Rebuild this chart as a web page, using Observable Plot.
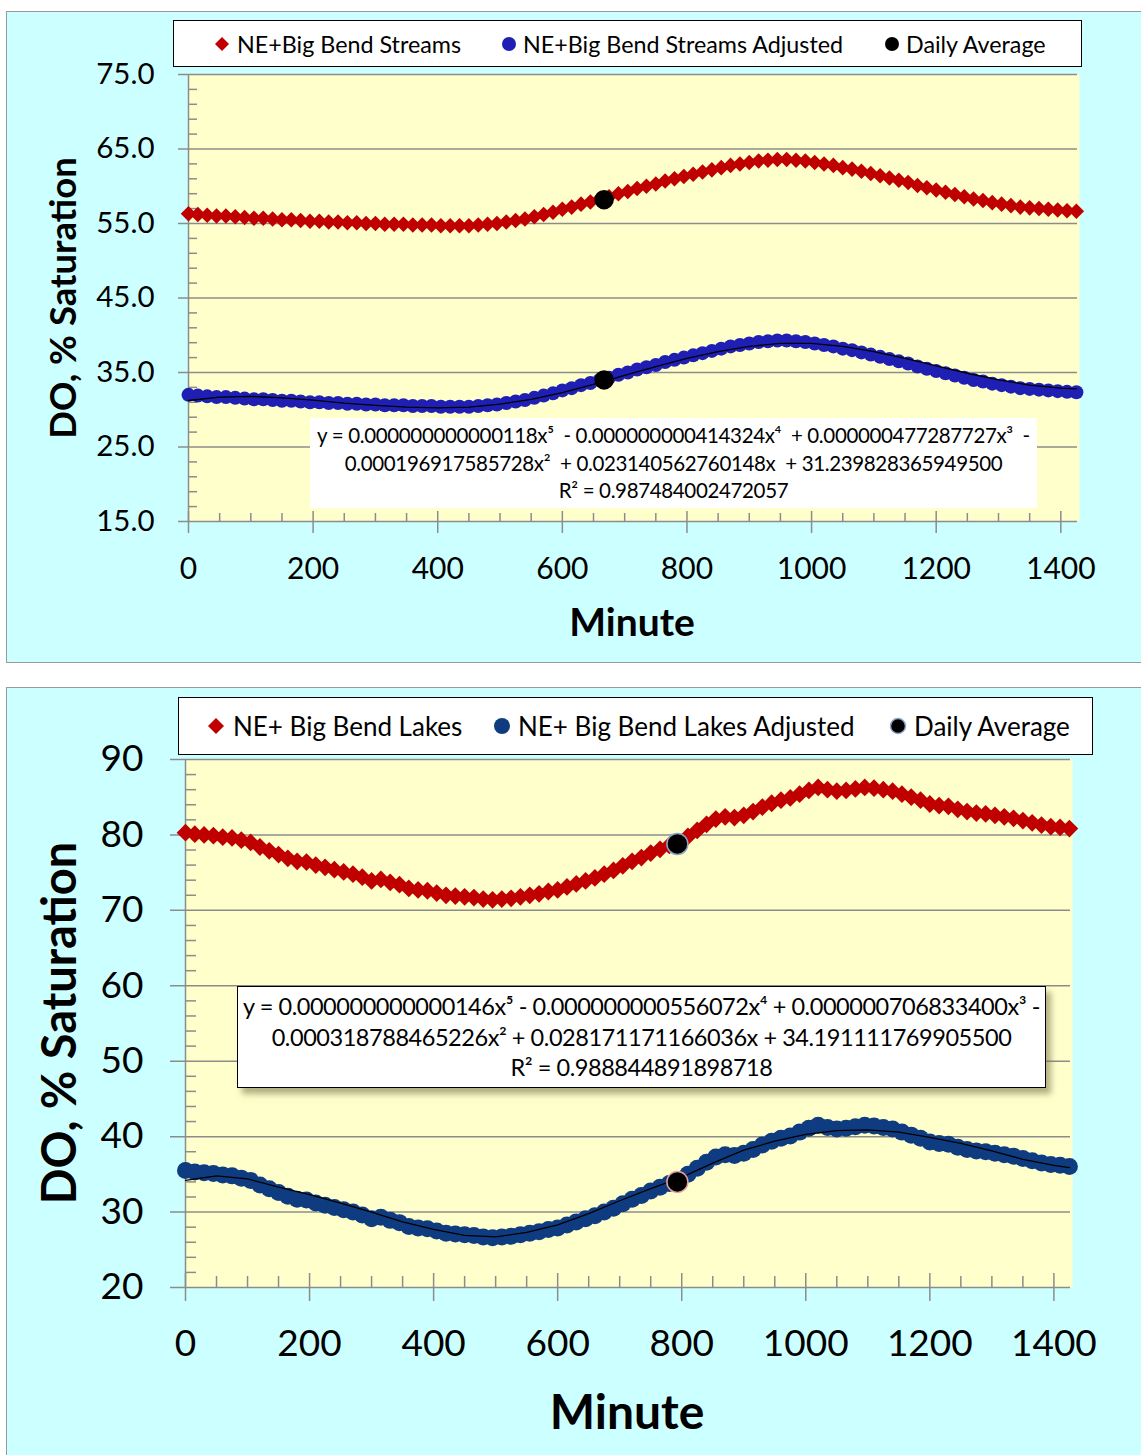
<!DOCTYPE html>
<html>
<head>
<meta charset="utf-8">
<script src="https://cdn.jsdelivr.net/npm/d3@7"></script>
<script src="https://cdn.jsdelivr.net/npm/@observablehq/plot@0.6"></script>
<style>
  html, body { margin: 0; padding: 0; }
  body { width: 1141px; height: 1455px; overflow: hidden; background: #ffffff; position: relative; font-family: Lato, "Open Sans", sans-serif; color: #000; }
  .panel { position: absolute; background: #CCFFFF; border: 1.5px solid #9a9a9a; box-sizing: border-box; }
  .chart { position: absolute; left: 0; }
  .legend { position: absolute; background: #fff; border: 1.5px solid #000; box-sizing: border-box; }
  .item { position: absolute; display: flex; align-items: center; transform: translateY(-50%); white-space: nowrap; }
  .item svg { display: block; }
  .eq { position: absolute; background: #fff; box-sizing: border-box; text-align: center; }
  .eq .ln { white-space: pre; }
  .title { position: absolute; font-weight: 700; white-space: nowrap; transform: translate(-50%, -50%); }
  .ytitle { position: absolute; font-weight: 700; white-space: nowrap; transform: translate(-50%, -50%) rotate(-90deg); }
</style>
</head>
<body>
<div class="panel" style="left:6px; top:11px; width:1160px; height:652px;"></div>
<div class="panel" style="left:6px; top:687px; width:1160px; height:800px;"></div>
<div id="c1" class="chart" style="top:0px;"></div>
<div id="c2" class="chart" style="top:680px;"></div>

<div class="legend" style="left:173px; top:20px; width:909px; height:47px;"></div>
<div class="item" style="left:214px; top:44px; font-size:23.3px;"><svg width="16" height="16"><path d="M8,1L15,8L8,15L1,8Z" fill="#C00000"/></svg><span style="margin-left:7px;">NE+Big Bend Streams</span></div>
<div class="item" style="left:501px; top:44px; font-size:23.3px;"><svg width="16" height="16"><circle cx="8" cy="8" r="7" fill="#1F1FB4"/></svg><span style="margin-left:6px;">NE+Big Bend Streams Adjusted</span></div>
<div class="item" style="left:884px; top:44px; font-size:23.3px;"><svg width="16" height="16"><circle cx="8" cy="8" r="7" fill="#000"/></svg><span style="margin-left:6px;">Daily Average</span></div>

<div class="legend" style="left:178px; top:697px; width:915px; height:58px;"></div>
<div class="item" style="left:207px; top:726px; font-size:26px;"><svg width="18" height="18"><path d="M9,1L17,9L9,17L1,9Z" fill="#C00000"/></svg><span style="margin-left:8px;">NE+ Big Bend Lakes</span></div>
<div class="item" style="left:493px; top:726px; font-size:26px;"><svg width="18" height="18"><circle cx="9" cy="9" r="8" fill="#0F3C80"/></svg><span style="margin-left:7px;">NE+ Big Bend Lakes Adjusted</span></div>
<div class="item" style="left:889px; top:726px; font-size:26px;"><svg width="18" height="18"><circle cx="9" cy="9" r="7.5" fill="#000" stroke="#8FA3C8" stroke-width="1.5"/></svg><span style="margin-left:7px;">Daily Average</span></div>

<div class="eq" style="left:310px; top:418px; width:727px; height:90px; font-size:20.5px; line-height:27.5px; padding-top:4px; letter-spacing:-0.35px;">
<div class="ln">y = 0.000000000000118x⁵  - 0.000000000414324x⁴  + 0.000000477287727x³  -</div>
<div class="ln">0.000196917585728x²  + 0.023140562760148x  + 31.239828365949500</div>
<div class="ln">R² = 0.987484002472057</div>
</div>

<div class="eq" style="left:237px; top:986px; width:809px; height:102px; border:1.5px solid #000; box-shadow:5px 6px 6px rgba(110,110,70,0.55); font-size:23.5px; line-height:30.5px; padding-top:4px; letter-spacing:-0.45px;">
<div class="ln">y = 0.000000000000146x⁵ - 0.000000000556072x⁴ + 0.000000706833400x³ -</div>
<div class="ln">0.000318788465226x² + 0.028171171166036x + 34.191111769905500</div>
<div class="ln">R² = 0.988844891898718</div>
</div>

<div class="ytitle" style="left:62px; top:298px; font-size:36.5px;">DO, % Saturation</div>
<div class="title" style="left:632px; top:621px; font-size:39px;">Minute</div>
<div class="ytitle" style="left:58px; top:1023px; font-size:47px;">DO, % Saturation</div>
<div class="title" style="left:627px; top:1410px; font-size:48px;">Minute</div>

<script>
// ---------- data ----------
const minutes = d3.range(0, 1440, 15); // 96 readings, every 15 minutes

// Top panel: NE + Big Bend Streams
const streams = [
  56.3,56.2,56.1,56.0,56.0,55.9,55.8,55.7,55.7,55.6,55.5,55.5,
  55.4,55.3,55.3,55.2,55.2,55.1,55.1,55.0,55.0,54.9,54.9,54.9,
  54.8,54.8,54.8,54.7,54.7,54.7,54.7,54.8,54.9,55.0,55.2,55.4,
  55.6,55.9,56.2,56.5,56.9,57.2,57.6,57.9,58.3,58.6,59.0,59.3,
  59.7,60.0,60.3,60.7,61.0,61.3,61.6,61.9,62.2,62.5,62.8,63.0,
  63.2,63.4,63.5,63.6,63.6,63.5,63.4,63.2,63.0,62.8,62.5,62.3,
  62.0,61.7,61.4,61.1,60.8,60.5,60.1,59.8,59.5,59.2,58.9,58.6,
  58.3,58.1,57.8,57.6,57.4,57.2,57.1,57.0,56.9,56.8,56.7,56.65
];
const streamsAdjusted = [
  32.0,31.9,31.8,31.7,31.7,31.6,31.5,31.4,31.4,31.3,31.2,31.2,
  31.1,31.0,31.0,30.9,30.9,30.8,30.8,30.7,30.7,30.6,30.6,30.6,
  30.5,30.5,30.5,30.4,30.4,30.4,30.4,30.5,30.6,30.7,30.9,31.1,
  31.3,31.6,31.9,32.2,32.6,32.9,33.3,33.6,34.0,34.3,34.7,35.0,
  35.4,35.7,36.0,36.4,36.7,37.0,37.3,37.6,37.9,38.2,38.5,38.7,
  38.9,39.1,39.2,39.3,39.3,39.2,39.1,38.9,38.7,38.5,38.2,38.0,
  37.7,37.4,37.1,36.8,36.5,36.2,35.8,35.5,35.2,34.9,34.6,34.3,
  34.0,33.8,33.5,33.3,33.1,32.9,32.8,32.7,32.6,32.5,32.4,32.35
];
const streamsAvgMinute = 667;
const streamsAvg = [58.2, 34.0];
const trendMinutes = [0,50,100,150,200,250,300,350,400,450,500,550,600,650,700,750,800,850,900,950,1000,1050,1100,1150,1200,1250,1300,1350,1400,1425];
const streamsTrend = [31.24,31.7,31.8,31.6,31.3,30.9,30.6,30.35,30.25,30.35,30.75,31.4,32.3,33.4,34.6,35.8,36.9,37.8,38.5,38.9,38.9,38.5,37.8,36.9,35.9,34.9,34.0,33.3,32.9,32.8];

// Bottom panel: NE + Big Bend Lakes
const lakes = [
  80.3,80.1,80.0,79.9,79.7,79.6,79.3,79.0,78.4,77.9,77.4,76.9,
  76.5,76.4,76.0,75.7,75.4,75.1,74.8,74.4,73.9,74.1,73.7,73.4,
  72.9,72.7,72.6,72.3,72.0,71.9,71.8,71.7,71.5,71.4,71.5,71.6,
  71.8,72.0,72.2,72.5,72.7,73.1,73.5,73.9,74.3,74.8,75.3,75.9,
  76.5,77.0,77.6,78.1,78.6,79.1,79.8,80.6,81.4,82.1,82.4,82.3,
  82.6,83.1,83.7,84.2,84.6,84.9,85.4,85.9,86.3,86.0,85.8,85.9,
  86.1,86.3,86.2,86.0,85.8,85.4,85.0,84.6,84.1,83.9,83.8,83.4,
  83.1,82.9,82.8,82.6,82.4,82.2,81.9,81.6,81.3,81.1,81.0,80.85
];
const lakesAdjusted = [
  35.5,35.3,35.2,35.1,34.9,34.8,34.5,34.2,33.6,33.1,32.6,32.1,
  31.7,31.6,31.2,30.9,30.6,30.3,30.0,29.6,29.1,29.3,28.9,28.6,
  28.1,27.9,27.8,27.5,27.2,27.1,27.0,26.9,26.7,26.6,26.7,26.8,
  27.0,27.2,27.4,27.7,27.9,28.3,28.7,29.1,29.5,30.0,30.5,31.1,
  31.7,32.2,32.8,33.3,33.8,34.3,35.0,35.8,36.6,37.3,37.6,37.5,
  37.8,38.3,38.9,39.4,39.8,40.1,40.6,41.1,41.5,41.2,41.0,41.1,
  41.3,41.5,41.4,41.2,41.0,40.6,40.2,39.8,39.3,39.1,39.0,38.6,
  38.3,38.1,38.0,37.8,37.6,37.4,37.1,36.8,36.5,36.3,36.2,36.05
];
const lakesAvgMinute = 793;
const lakesAvg = [78.8, 34.0];
const lakesTrend = [34.19,34.8,34.4,33.3,32.3,31.2,30.0,28.7,27.7,26.9,26.7,27.3,28.3,29.8,31.5,33.1,34.6,36.5,38.2,39.4,40.3,40.8,40.9,40.6,39.9,39.1,38.1,37.0,36.2,35.9];

// axis ticks
const xMajor = [0,200,400,600,800,1000,1200,1400];
const xMinor = [50,100,150,250,300,350,450,500,550,650,700,750,850,900,950,1050,1100,1150,1250,1300,1350];
const yMajorTop = [15,25,35,45,55,65,75];
const yMinorTop = [17,19,21,23,27,29,31,33,37,39,41,43,47,49,51,53,57,59,61,63,67,69,71,73];
const yMajorBot = [20,30,40,50,60,70,80,90];
const yMinorBot = [22,24,26,28,32,34,36,38,42,44,46,48,52,54,56,58,62,64,66,68,72,74,76,78,82,84,86,88];

// ---------- drawing ----------
const GRID = "#8c8c8c";
function makeChart(o) {
  const W = 1141;
  const pw = W - o.ml - o.mr;
  const ph = o.H - o.mt - o.mb;
  const redData = minutes.map((m, i) => ({m, v: o.red[i]}));
  const blueData = minutes.map((m, i) => ({m, v: o.blue[i]}));
  const trendData = trendMinutes.map((m, i) => ({m, v: o.trend[i]}));
  const avgData = o.avg.map((v, i) => ({m: o.avgMinute, v, k: i}));
  return Plot.plot({
    width: W, height: o.H,
    marginTop: o.mt, marginBottom: o.mb, marginLeft: o.ml, marginRight: o.mr,
    x: {domain: [0, 1430]},
    y: {domain: o.yDomain},
    style: {fontFamily: "Lato, 'Open Sans', sans-serif", color: "#000", background: "transparent", overflow: "visible"},
    marks: [
      Plot.frame({fill: "#FFFFCC", stroke: "none"}),
      Plot.ruleY(o.yMajor, {stroke: GRID, strokeWidth: 1.5, insetLeft: -o.tickOut, insetRight: 2}),
      Plot.ruleY(o.yMinor, {stroke: GRID, strokeWidth: 1.5, insetRight: pw - o.tickIn}),
      Plot.ruleX([0], {stroke: GRID, strokeWidth: 1.5}),
      Plot.ruleX(xMajor, {stroke: GRID, strokeWidth: 1.5, insetTop: ph - o.xTickUp, insetBottom: -o.xTickDown}),
      Plot.ruleX(xMinor, {stroke: GRID, strokeWidth: 1.5, insetTop: ph - o.xTickIn}),
      Plot.dot(redData, {x: "m", y: "v", symbol: "diamond2", r: o.rDiamond, fill: "#C00000"}),
      Plot.dot(blueData, {x: "m", y: "v", symbol: "circle", r: o.rCircle, fill: o.blueColor}),
      Plot.line(trendData, {x: "m", y: "v", stroke: "#000", strokeWidth: 1.3}),
      Plot.dot(avgData, {x: "m", y: "v", r: o.rAvg, fill: "#000", stroke: (d) => o.avgStroke[d.k], strokeWidth: 1.5}),
      Plot.axisY({ticks: o.yMajor, tickSize: 0, tickPadding: o.yPad, tickFormat: o.yFormat, fontSize: o.yFont, label: null}),
      Plot.axisX({ticks: xMajor, tickSize: 0, tickPadding: o.xPad, tickFormat: (d) => String(d), fontSize: o.xFont, label: null})
    ]
  });
}

document.getElementById("c1").append(makeChart({
  H: 662, mt: 74, mb: 141, ml: 188, mr: 62,
  yDomain: [15, 75], yMajor: yMajorTop, yMinor: yMinorTop,
  red: streams, blue: streamsAdjusted, trend: streamsTrend,
  avg: streamsAvg, avgMinute: streamsAvgMinute, avgStroke: ["#000", "#000"],
  blueColor: "#1F1FB4", rDiamond: 7, rCircle: 7, rAvg: 9,
  tickOut: 10, tickIn: 9, xTickUp: 10, xTickDown: 12, xTickIn: 8,
  yPad: 34, xPad: 36, yFont: 29.5, xFont: 30, yFormat: (d) => d.toFixed(1)
}));

document.getElementById("c2").append(makeChart({
  H: 775, mt: 79, mb: 168, ml: 185, mr: 69,
  yDomain: [20, 90], yMajor: yMajorBot, yMinor: yMinorBot,
  red: lakes, blue: lakesAdjusted, trend: lakesTrend,
  avg: lakesAvg, avgMinute: lakesAvgMinute, avgStroke: ["#8FA3C8", "#E8A0A0"],
  blueColor: "#0F3C80", rDiamond: 8, rCircle: 8.5, rAvg: 10.5,
  tickOut: 15, tickIn: 11, xTickUp: 14, xTickDown: 14, xTickIn: 11,
  yPad: 42, xPad: 42, yFont: 37, xFont: 37, yFormat: (d) => String(d)
}));
</script>
</body>
</html>
